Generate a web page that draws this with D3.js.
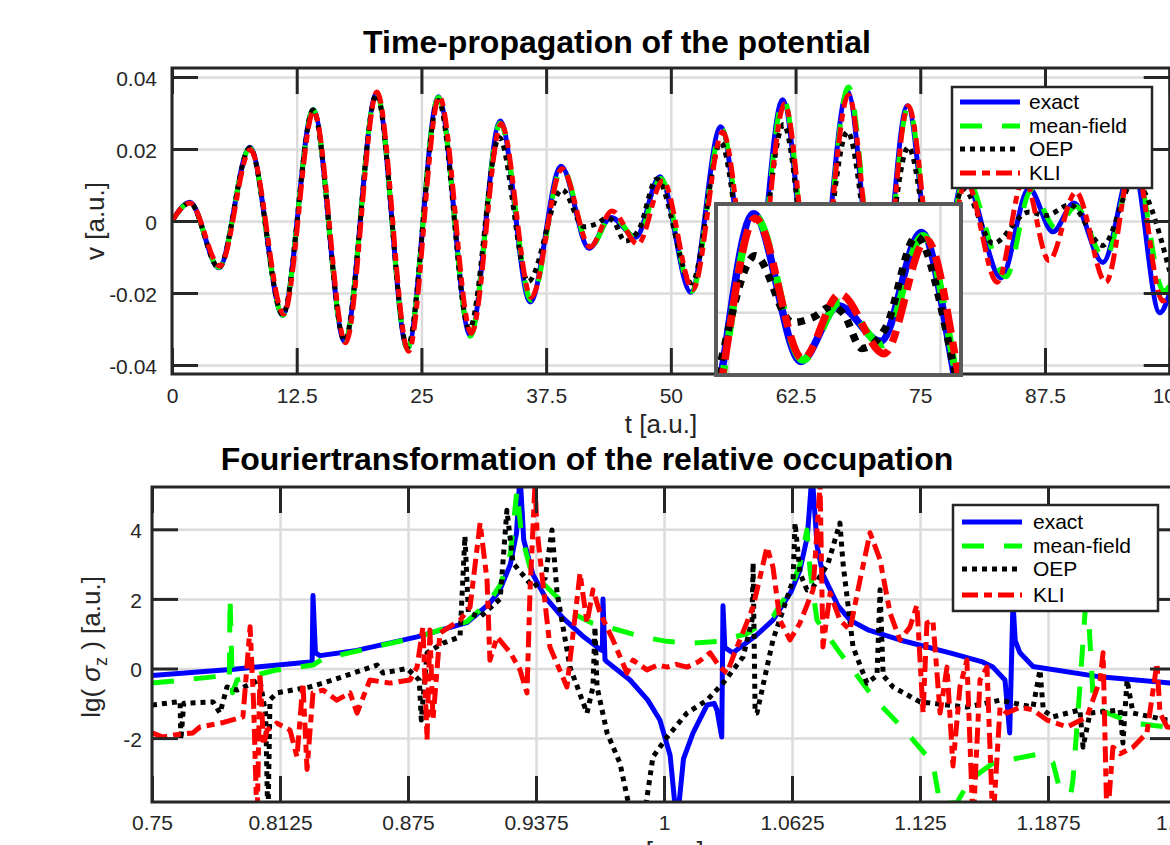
<!DOCTYPE html>
<html><head><meta charset="utf-8">
<script src="https://cdn.jsdelivr.net/npm/d3@7"></script>
<style>
body{margin:0;background:#fff;}
svg{display:block;font-family:"Liberation Sans",Arial,Helvetica,sans-serif;}
</style></head><body>
<svg id="c" width="1170" height="845"></svg>
<script>
// ---------------- DATA ----------------
const seriesNames = ["exact", "mean-field", "OEP", "KLI"];

// top panel: t [a.u.] vs v [a.u.]  (extrema)
const topExact = [[0,0],[1.8,0.0052],[4.7,-0.0130],[7.8,0.0205],[11.1,-0.0262],[14.15,0.0310],[17.3,-0.0335],[20.5,0.0355],[23.6,-0.0355],[26.7,0.0345],[29.9,-0.0318],[32.9,0.0278],[35.9,-0.0225],[39.0,0.0152],[41.8,-0.0076],[44.0,0.0010],[46.5,-0.0045],[48.9,0.0123],[52.0,-0.0198],[55.0,0.0262],[58.1,-0.0270],[61.2,0.0337],[64.4,-0.0310],[67.7,0.0360],[70.8,-0.0300],[73.7,0.0320],[76.6,-0.0240],[79.4,0.0120],[83.1,-0.0158],[85.9,0.0090],[88.3,-0.0030],[90.4,0.0050],[93.3,-0.0115],[96.3,0.0160],[99.0,-0.0255],[100,-0.0200]];
const topMeanField = [[0,0],[1.8,0.0051],[4.7,-0.0129],[7.8,0.0203],[11.1,-0.0262],[14.15,0.0309],[17.3,-0.0335],[20.5,0.0356],[23.6,-0.0356],[26.7,0.0344],[29.9,-0.0320],[32.9,0.0272],[36.0,-0.0220],[39.1,0.0148],[41.9,-0.0074],[44.1,0.0015],[46.6,-0.0050],[49.0,0.0118],[52.1,-0.0195],[55.1,0.0255],[58.2,-0.0270],[61.3,0.0338],[64.5,-0.0310],[67.8,0.0372],[70.9,-0.0300],[73.8,0.0318],[76.7,-0.0240],[79.5,0.0120],[83.6,-0.0155],[86.1,0.0085],[88.6,-0.0020],[90.6,0.0040],[93.5,-0.0105],[96.5,0.0160],[99.4,-0.0195],[100,-0.0180]];
const topOEP = [[0,0],[1.8,0.0050],[4.7,-0.0130],[7.8,0.0203],[11.1,-0.0260],[14.15,0.0308],[17.3,-0.0333],[20.5,0.0352],[23.6,-0.0350],[26.7,0.0335],[29.8,-0.0300],[32.8,0.0232],[35.7,-0.0168],[39.1,0.0087],[41.3,-0.0016],[42.6,-0.0007],[43.6,0.0009],[44.3,-0.0002],[45.4,-0.0056],[46.8,-0.0024],[48.6,0.0117],[52.1,-0.0172],[55.0,0.0218],[58.1,-0.0240],[61.3,0.0268],[64.4,-0.0260],[67.7,0.0248],[70.8,-0.0220],[73.8,0.0205],[76.7,-0.0180],[79.3,0.0090],[82.3,-0.0062],[85.9,0.0025],[87.6,0.0015],[90.0,0.0045],[93.3,-0.0068],[96.4,0.0110],[100,-0.0140]];
const topKLI = [[0,0],[1.8,0.0050],[4.8,-0.0125],[7.85,0.0198],[11.2,-0.0258],[14.2,0.0305],[17.4,-0.0338],[20.55,0.0358],[23.7,-0.0362],[26.8,0.0345],[30.0,-0.0312],[33.0,0.0270],[36.0,-0.0212],[39.1,0.0145],[41.9,-0.0072],[44.1,0.0028],[46.7,-0.0064],[49.2,0.0112],[52.2,-0.0190],[55.2,0.0247],[58.3,-0.0270],[61.4,0.0325],[64.5,-0.0300],[67.8,0.0350],[70.9,-0.0290],[73.8,0.0320],[76.8,-0.0240],[79.6,0.0110],[82.7,-0.0170],[85.4,0.0120],[87.9,-0.0110],[90.6,0.0080],[93.6,-0.0170],[96.4,0.0180],[99.3,-0.0222],[100,-0.0210]];

// bottom panel: frequency vs lg(sigma_z)
const botExact = [[0.75,-0.2],[0.79,-0.02],[0.8271,0.19],[0.8282,0.22],[0.8286,2.1],[0.8298,0.45],[0.832,0.37],[0.85,0.52],[0.8794,0.91],[0.9038,1.32],[0.915,1.88],[0.9199,2.26],[0.925,3.0],[0.928,3.9],[0.9297,5.6],[0.9315,3.7],[0.936,2.7],[0.942,2.05],[0.9507,1.45],[0.96,0.95],[0.9688,0.55],[0.9699,0.52],[0.9702,2.0],[0.9712,0.25],[0.9722,0.19],[0.9834,-0.33],[0.992,-0.9],[0.998,-1.48],[1.003,-2.5],[1.0063,-4.5],[1.0095,-2.6],[1.0142,-1.85],[1.021,-1.05],[1.0245,-1.0],[1.0259,-1.2],[1.0282,-1.97],[1.0288,1.8],[1.0297,0.6],[1.0337,0.45],[1.045,0.95],[1.0532,1.39],[1.062,2.2],[1.0664,2.83],[1.070,3.8],[1.0723,5.6],[1.0748,3.5],[1.0776,2.7],[1.085,1.8],[1.0908,1.39],[1.1,1.1],[1.1152,0.82],[1.1396,0.45],[1.155,0.2],[1.1606,0.04],[1.1665,-0.33],[1.1688,-1.85],[1.1704,1.9],[1.1715,0.8],[1.1738,0.45],[1.1802,0.06],[1.2129,-0.24],[1.2471,-0.42],[1.25,-0.43]];
const botMeanField = [[0.75,-0.42],[0.77,-0.3],[0.7866,-0.2],[0.7878,-0.3],[0.7881,2.05],[0.7893,-0.7],[0.7915,-0.33],[0.81,-0.05],[0.8286,0.1],[0.8335,0.28],[0.85,0.5],[0.8794,0.9],[0.9038,1.35],[0.915,1.95],[0.92,2.4],[0.925,3.3],[0.9282,5.13],[0.9305,3.8],[0.9346,2.9],[0.94,2.5],[0.9478,2.05],[0.955,1.6],[0.965,1.3],[0.9751,1.15],[0.99,0.9],[1.0015,0.78],[1.0142,0.73],[1.0259,0.78],[1.0405,1.0],[1.0532,1.5],[1.062,2.3],[1.0664,3.0],[1.0698,3.98],[1.0713,2.83],[1.0747,1.39],[1.0859,0.45],[1.1021,-0.82],[1.1187,-1.85],[1.1313,-2.72],[1.1348,-3.9],[1.1431,-3.85],[1.1494,-3.2],[1.1606,-2.72],[1.1836,-2.45],[1.1899,-2.7],[1.1968,-4.3],[1.1997,-3.2],[1.2031,-0.5],[1.2065,2.4],[1.2095,-0.8],[1.2129,-1.19],[1.229,-1.57],[1.2456,-1.68],[1.25,-1.7]];
const botOEP = [[0.75,-1.05],[0.7637,-0.95],[0.7641,-2.05],[0.7655,-1.0],[0.7798,-0.96],[0.7832,-1.28],[0.7866,-0.53],[0.7915,-0.62],[0.8027,-0.33],[0.8055,-1.3],[0.8066,-4.5],[0.8076,-0.9],[0.811,-0.7],[0.8271,-0.53],[0.8384,-0.33],[0.8599,0.1],[0.8628,-0.13],[0.8745,0.0],[0.8805,-0.33],[0.8815,-1.48],[0.8843,0.45],[0.8921,0.73],[0.9004,0.91],[0.9028,3.8],[0.9045,1.6],[0.9102,1.48],[0.92,2.0],[0.9233,4.55],[0.9263,3.03],[0.936,2.34],[0.942,2.6],[0.9453,3.98],[0.9478,2.17],[0.9541,0.04],[0.9624,-1.28],[0.9653,-0.53],[0.9663,1.19],[0.9673,-0.53],[0.9722,-1.85],[0.9785,-2.72],[0.9849,-4.5],[0.9897,-4.5],[0.9946,-2.54],[1.0015,-1.97],[1.0112,-1.28],[1.021,-0.91],[1.0288,-0.42],[1.0386,0.33],[1.043,1.39],[1.0435,3.03],[1.0445,-1.28],[1.0454,-1.28],[1.0532,0.82],[1.063,2.54],[1.064,4.18],[1.0664,2.74],[1.0698,2.26],[1.0728,2.34],[1.08,3.0],[1.0859,4.18],[1.0874,3.03],[1.0923,0.62],[1.0991,-0.42],[1.104,-0.2],[1.1055,2.26],[1.107,-0.2],[1.1118,-0.53],[1.125,-0.96],[1.1479,-1.11],[1.1641,-0.91],[1.1802,-1.11],[1.1836,-0.04],[1.1852,-1.2],[1.1899,-1.39],[1.2031,-1.19],[1.2046,-2.26],[1.208,-1.28],[1.2227,-1.19],[1.2241,-2.14],[1.2261,-0.33],[1.229,-1.28],[1.2456,-1.48],[1.25,-1.5]];
const botKLI = [[0.75,-1.85],[0.7554,-1.97],[0.762,-1.9],[0.770,-1.85],[0.7734,-1.68],[0.785,-1.55],[0.7944,-1.39],[0.7979,1.2],[0.7996,-1.0],[0.8013,-4.5],[0.8027,-0.13],[0.8045,-2.2],[0.8062,-1.77],[0.811,-1.57],[0.8174,-1.77],[0.8208,-2.54],[0.8237,-0.42],[0.8257,-2.9],[0.8286,-0.70],[0.8335,-0.62],[0.8403,-0.91],[0.8467,-0.70],[0.8501,-1.28],[0.8564,-0.33],[0.8662,-0.42],[0.876,-0.33],[0.8794,0.04],[0.8823,1.19],[0.8843,-2.05],[0.8857,1.11],[0.8872,-1.48],[0.8906,1.02],[0.9004,1.39],[0.9053,1.77],[0.9102,4.18],[0.9136,2.54],[0.915,0.24],[0.9185,0.91],[0.925,0.45],[0.9297,-0.04],[0.9331,-0.70],[0.9346,2.26],[0.937,5.3],[0.938,3.98],[0.9443,0.62],[0.9526,-0.53],[0.959,2.74],[0.9624,1.31],[0.9653,2.26],[0.9688,1.59],[0.9751,0.82],[0.9819,-0.13],[0.9849,0.24],[0.9917,-0.04],[0.997,0.1],[1.0015,0.04],[1.006,0.12],[1.0112,0.04],[1.017,0.2],[1.0225,0.45],[1.0273,0.04],[1.0308,-0.13],[1.0337,0.33],[1.0435,1.77],[1.0503,3.49],[1.0532,2.92],[1.0566,1.39],[1.0615,0.82],[1.0664,1.31],[1.0728,2.26],[1.0762,5.3],[1.0776,0.62],[1.0811,2.17],[1.0859,1.39],[1.0908,1.11],[1.0957,2.54],[1.1006,3.9],[1.1055,3.12],[1.1104,1.59],[1.1152,0.82],[1.1201,1.19],[1.1235,1.82],[1.1265,-1.28],[1.1284,1.31],[1.1313,1.39],[1.1348,-1.28],[1.1382,0.04],[1.1411,-2.8],[1.1445,-0.53],[1.1479,0.24],[1.1509,-4.5],[1.1543,-0.33],[1.1577,0.04],[1.1606,-4.5],[1.1641,-1.11],[1.1675,-1.28],[1.1738,-1.11],[1.1802,-1.19],[1.187,-1.48],[1.1968,-1.68],[1.2065,-1.39],[1.2129,-0.33],[1.2144,0.45],[1.2163,-4.5],[1.2192,-2.26],[1.2227,-2.45],[1.229,-2.26],[1.2358,-1.85],[1.2407,0.15],[1.2422,-1.28],[1.2456,-1.68],[1.25,-1.7]];

// ticks
const topXTicks = [0, 12.5, 25, 37.5, 50, 62.5, 75, 87.5, 100];
const topXTickLabels = ["0", "12.5", "25", "37.5", "50", "62.5", "75", "87.5", "100"];
const topYTicks = [-0.04, -0.02, 0, 0.02, 0.04];
const topYTickLabels = ["-0.04", "-0.02", "0", "0.02", "0.04"];
const insetXGrid = [37.5, 50];
const insetYGrid = [0];
const botXTicks = [0.75, 0.8125, 0.875, 0.9375, 1, 1.0625, 1.125, 1.1875, 1.25];
const botXTickLabels = ["0.75", "0.8125", "0.875", "0.9375", "1", "1.0625", "1.125", "1.1875", "1.25"];
const botYTicks = [-2, 0, 2, 4];
const botYTickLabels = ["-2", "0", "2", "4"];

// ---------------- STYLE ----------------
const styles = [
  {color: "#0000ff", dash: null},
  {color: "#00ff00", dash: [22, 20]},
  {color: "#000000", dash: [5, 5]},
  {color: "#ff0000", dash: [16, 6, 8, 6]}
];
const AX = "#262626", GRID = "#dcdcdc", FONT = 21;

const svg = d3.select("#c");
const defs = svg.append("defs");

function clip(id, x, y, w, h) {
  defs.append("clipPath").attr("id", id).append("rect")
    .attr("x", x).attr("y", y).attr("width", w).attr("height", h);
}

function drawLines(g, datasets, xs, ys, lw, curve, dashScale) {
  const line = d3.line().x(d => xs(d[0])).y(d => ys(d[1])).curve(curve);
  datasets.forEach((data, i) => {
    const st = styles[i];
    g.append("path").datum(data)
      .attr("d", line)
      .attr("fill", "none")
      .attr("stroke", st.color)
      .attr("stroke-width", lw)
      .attr("stroke-linejoin", "round")
      .attr("stroke-dasharray", st.dash ? st.dash.map(v => v * dashScale).join(",") : null);
  });
}

function styleAxis(g, showText) {
  g.select(".domain").remove();
  g.selectAll(".tick line").attr("stroke", AX).attr("stroke-width", 3);
  g.selectAll(".tick text").attr("fill", AX).attr("font-size", FONT)
    .style("display", showText ? null : "none");
}

function panel(opt) {
  const {xs, ys, xTicks, xLabels, yTicks, yLabels, padX, padY, clipId, data, curve} = opt;
  const [x0, x1] = xs.range(), [y0, y1] = ys.range(); // y0 bottom, y1 top
  const g = svg.append("g");
  // grid
  g.append("g").attr("transform", `translate(0,${y0})`)
    .call(d3.axisBottom(xs).tickValues(xTicks).tickSize(-(y0 - y1)).tickFormat(""))
    .call(a => { a.select(".domain").remove(); a.selectAll("line").attr("stroke", GRID).attr("stroke-width", 2.5); });
  g.append("g").attr("transform", `translate(${x0},0)`)
    .call(d3.axisLeft(ys).tickValues(yTicks).tickSize(-(x1 - x0)).tickFormat(""))
    .call(a => { a.select(".domain").remove(); a.selectAll("line").attr("stroke", GRID).attr("stroke-width", 2.5); });
  // data
  clip(clipId, x0, y1, x1 - x0, y0 - y1);
  const dg = g.append("g").attr("clip-path", `url(#${clipId})`);
  drawLines(dg, data, xs, ys, 5, curve, 1);
  // axes
  const tl = -26;
  g.append("g").attr("transform", `translate(0,${y0})`)
    .call(d3.axisBottom(xs).tickValues(xTicks).tickSizeInner(tl).tickSizeOuter(0).tickPadding(padX)
      .tickFormat((d, i) => xLabels[i]))
    .call(a => styleAxis(a, true));
  g.append("g").attr("transform", `translate(0,${y1})`)
    .call(d3.axisTop(xs).tickValues(xTicks).tickSizeInner(tl).tickSizeOuter(0).tickFormat(""))
    .call(a => styleAxis(a, false));
  g.append("g").attr("transform", `translate(${x0},0)`)
    .call(d3.axisLeft(ys).tickValues(yTicks).tickSizeInner(tl).tickSizeOuter(0).tickPadding(padY)
      .tickFormat((d, i) => yLabels[i]))
    .call(a => { styleAxis(a, true); a.selectAll(".tick text").attr("dy", "0.4em"); });
  g.append("g").attr("transform", `translate(${x1},0)`)
    .call(d3.axisRight(ys).tickValues(yTicks).tickSizeInner(tl).tickSizeOuter(0).tickFormat(""))
    .call(a => styleAxis(a, false));
  g.append("rect").attr("x", x0).attr("y", y1).attr("width", x1 - x0).attr("height", y0 - y1)
    .attr("fill", "none").attr("stroke", AX).attr("stroke-width", 3);
  return g;
}

function legend(x, y, w, h, lineX0, lineX1, textX, rows) {
  const g = svg.append("g");
  g.append("rect").attr("x", x).attr("y", y).attr("width", w).attr("height", h)
    .attr("fill", "#fff").attr("stroke", AX).attr("stroke-width", 2.5);
  seriesNames.forEach((name, i) => {
    const st = styles[i];
    g.append("line").attr("x1", lineX0).attr("x2", lineX1).attr("y1", rows[i]).attr("y2", rows[i])
      .attr("stroke", st.color).attr("stroke-width", 5)
      .attr("stroke-dasharray", st.dash ? st.dash.join(",") : null);
    g.append("text").attr("x", textX).attr("y", rows[i]).attr("dy", "0.35em")
      .attr("font-size", FONT).attr("fill", "#000").text(name);
  });
}

// ---------------- TOP PANEL ----------------
const xTop = d3.scaleLinear().domain([0, 100]).range([172, 1169.7]);
const yTop = d3.scaleLinear().domain([-0.0425, 0.0425]).range([374, 68]);
panel({xs: xTop, ys: yTop, xTicks: topXTicks, xLabels: topXTickLabels, yTicks: topYTicks, yLabels: topYTickLabels,
  padX: 14, padY: 15, clipId: "clipTop", data: [topExact, topMeanField, topOEP, topKLI], curve: d3.curveMonotoneX});

svg.append("text").attr("x", 617).attr("y", 53).attr("text-anchor", "middle")
  .attr("font-size", 32).attr("font-weight", "bold").attr("fill", "#000")
  .text("Time-propagation of the potential");
svg.append("text").attr("x", 661).attr("y", 433).attr("text-anchor", "middle")
  .attr("font-size", 26).attr("fill", AX).text("t [a.u.]");
svg.append("text").attr("transform", "translate(104,221) rotate(-90)").attr("text-anchor", "middle")
  .attr("font-size", 26).attr("fill", AX).text("v [a.u.]");

// inset
const xIn = d3.scaleLinear().domain([36.79, 51.24]).range([716, 961]);
const yIn = d3.scaleLinear().domain([-0.0097, 0.0167]).range([375, 204]);
const ig = svg.append("g");
ig.append("rect").attr("x", 716).attr("y", 204).attr("width", 245).attr("height", 171).attr("fill", "#fff");
ig.append("g").attr("transform", "translate(0,375)")
  .call(d3.axisBottom(xIn).tickValues(insetXGrid).tickSize(-171).tickFormat(""))
  .call(a => { a.select(".domain").remove(); a.selectAll("line").attr("stroke", GRID).attr("stroke-width", 2.5); });
ig.append("g").attr("transform", "translate(716,0)")
  .call(d3.axisLeft(yIn).tickValues(insetYGrid).tickSize(-245).tickFormat(""))
  .call(a => { a.select(".domain").remove(); a.selectAll("line").attr("stroke", GRID).attr("stroke-width", 2.5); });
clip("clipIn", 716, 204, 245, 171);
const igd = ig.append("g").attr("clip-path", "url(#clipIn)");
drawLines(igd, [topExact, topMeanField, topOEP, topKLI], xIn, yIn, 7.5, d3.curveMonotoneX, 1.5);
ig.append("rect").attr("x", 716).attr("y", 204).attr("width", 245).attr("height", 171)
  .attr("fill", "none").attr("stroke", "#5a5a5a").attr("stroke-width", 4);

legend(952, 87, 200, 101, 960, 1020, 1029, [102, 126, 149, 173]);

// ---------------- BOTTOM PANEL ----------------
const xBot = d3.scaleLinear().domain([0.75, 1.25]).range([152, 1176]);
const yBot = d3.scaleLinear().domain([-3.836, 5.216]).range([802, 487]);
panel({xs: xBot, ys: yBot, xTicks: botXTicks, xLabels: botXTickLabels, yTicks: botYTicks, yLabels: botYTickLabels,
  padX: 13, padY: 10, clipId: "clipBot", data: [botExact, botMeanField, botOEP, botKLI], curve: d3.curveLinear});

svg.append("text").attr("x", 587).attr("y", 470).attr("text-anchor", "middle")
  .attr("font-size", 32).attr("font-weight", "bold").attr("fill", "#000")
  .text("Fouriertransformation of the relative occupation");
svg.append("text").attr("x", 661).attr("y", 860).attr("text-anchor", "middle")
  .attr("font-size", 26).attr("fill", AX).text("ω [a.u.]");
const yl = svg.append("text").attr("transform", "translate(100,647) rotate(-90)").attr("text-anchor", "middle")
  .attr("font-size", 26).attr("fill", AX);
yl.append("tspan").text("lg( ");
yl.append("tspan").attr("font-style", "italic").text("σ");
yl.append("tspan").attr("font-size", 18).attr("dy", 7).text("z");
yl.append("tspan").attr("dy", -7).text(" ) [a.u.]");

legend(953, 505, 205, 106, 962, 1022, 1033, [522, 546, 569, 595]);
</script></body></html>
